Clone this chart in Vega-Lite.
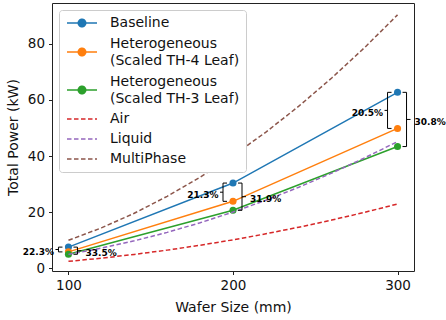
{
  "$schema": "https://vega.github.io/schema/vega-lite/v6.json",
  "width": 362,
  "height": 268,
  "autosize": {"type": "none"},
  "padding": {"left": 52, "top": 3, "right": 32, "bottom": 49},
  "background": "white",
  "config": {
    "font": "DejaVu Sans",
    "view": {"stroke": "#222222", "strokeWidth": 1},
    "axis": {
      "domain": false,
      "grid": false,
      "ticks": true,
      "tickColor": "#222222",
      "tickSize": 3.5,
      "tickWidth": 1,
      "labelFont": "DejaVu Sans",
      "labelFontSize": 13.5,
      "labelColor": "#111111",
      "titleFont": "DejaVu Sans",
      "titleFontSize": 14,
      "titleFontWeight": "normal",
      "titleColor": "#111111"
    },
    "legend": {
      "labelFont": "DejaVu Sans",
      "labelFontSize": 14,
      "labelColor": "#111111",
      "labelLimit": 400
    }
  },
  "datasets": {
    "lines": [
      {"series": "Baseline", "wafer": 100, "kw": 7.6},
      {"series": "Baseline", "wafer": 200, "kw": 30.4},
      {"series": "Baseline", "wafer": 300, "kw": 62.7},
      {"series": "Heterogeneous (Scaled TH-4 Leaf)", "wafer": 100, "kw": 5.9},
      {"series": "Heterogeneous (Scaled TH-4 Leaf)", "wafer": 200, "kw": 23.9},
      {"series": "Heterogeneous (Scaled TH-4 Leaf)", "wafer": 300, "kw": 49.85},
      {"series": "Heterogeneous (Scaled TH-3 Leaf)", "wafer": 100, "kw": 5.05},
      {"series": "Heterogeneous (Scaled TH-3 Leaf)", "wafer": 200, "kw": 20.7},
      {"series": "Heterogeneous (Scaled TH-3 Leaf)", "wafer": 300, "kw": 43.4},
      {"series": "Air", "wafer": 100, "kw": 2.55},
      {"series": "Air", "wafer": 120, "kw": 3.67},
      {"series": "Air", "wafer": 140, "kw": 5.0},
      {"series": "Air", "wafer": 160, "kw": 6.53},
      {"series": "Air", "wafer": 180, "kw": 8.26},
      {"series": "Air", "wafer": 200, "kw": 10.2},
      {"series": "Air", "wafer": 220, "kw": 12.34},
      {"series": "Air", "wafer": 240, "kw": 14.69},
      {"series": "Air", "wafer": 260, "kw": 17.24},
      {"series": "Air", "wafer": 280, "kw": 19.99},
      {"series": "Air", "wafer": 300, "kw": 22.95},
      {"series": "Liquid", "wafer": 100, "kw": 5.02},
      {"series": "Liquid", "wafer": 120, "kw": 7.23},
      {"series": "Liquid", "wafer": 140, "kw": 9.84},
      {"series": "Liquid", "wafer": 160, "kw": 12.85},
      {"series": "Liquid", "wafer": 180, "kw": 16.26},
      {"series": "Liquid", "wafer": 200, "kw": 20.08},
      {"series": "Liquid", "wafer": 220, "kw": 24.3},
      {"series": "Liquid", "wafer": 240, "kw": 28.92},
      {"series": "Liquid", "wafer": 260, "kw": 33.94},
      {"series": "Liquid", "wafer": 280, "kw": 39.36},
      {"series": "Liquid", "wafer": 300, "kw": 45.18},
      {"series": "MultiPhase", "wafer": 100, "kw": 10.03},
      {"series": "MultiPhase", "wafer": 120, "kw": 14.44},
      {"series": "MultiPhase", "wafer": 140, "kw": 19.66},
      {"series": "MultiPhase", "wafer": 160, "kw": 25.68},
      {"series": "MultiPhase", "wafer": 180, "kw": 32.5},
      {"series": "MultiPhase", "wafer": 200, "kw": 40.12},
      {"series": "MultiPhase", "wafer": 220, "kw": 48.55},
      {"series": "MultiPhase", "wafer": 240, "kw": 57.77},
      {"series": "MultiPhase", "wafer": 260, "kw": 67.8},
      {"series": "MultiPhase", "wafer": 280, "kw": 78.64},
      {"series": "MultiPhase", "wafer": 300, "kw": 90.27}
    ],
    "brackets": [
      {"wafer": 100, "side": "left", "kw": 7.6, "label": "22.3%"},
      {"wafer": 100, "side": "left", "kw": 5.9, "label": "22.3%"},
      {"wafer": 100, "side": "right", "kw": 7.6, "label": "33.5%"},
      {"wafer": 100, "side": "right", "kw": 5.05, "label": "33.5%"},
      {"wafer": 200, "side": "left", "kw": 30.4, "label": "21.3%"},
      {"wafer": 200, "side": "left", "kw": 23.9, "label": "21.3%"},
      {"wafer": 200, "side": "right", "kw": 30.4, "label": "31.9%"},
      {"wafer": 200, "side": "right", "kw": 20.7, "label": "31.9%"},
      {"wafer": 300, "side": "left", "kw": 62.7, "label": "20.5%"},
      {"wafer": 300, "side": "left", "kw": 49.85, "label": "20.5%"},
      {"wafer": 300, "side": "right", "kw": 62.7, "label": "30.8%"},
      {"wafer": 300, "side": "right", "kw": 43.4, "label": "30.8%"}
    ]
  },
  "encoding": {
    "x": {
      "field": "wafer",
      "type": "quantitative",
      "scale": {"domain": [90, 310], "nice": false, "zero": false},
      "axis": {"values": [100, 200, 300], "title": "Wafer Size (mm)", "labelPadding": 4, "titlePadding": 8}
    },
    "y": {
      "field": "kw",
      "type": "quantitative",
      "scale": {"domain": [-0.9, 94.5], "nice": false, "zero": false},
      "axis": {"values": [0, 20, 40, 60, 80], "title": "Total Power (kW)", "labelPadding": 4, "titlePadding": 7}
    }
  },
  "layer": [
    {
      "data": {"name": "lines"},
      "transform": [{"filter": "indexof(['Baseline','Heterogeneous (Scaled TH-4 Leaf)','Heterogeneous (Scaled TH-3 Leaf)'], datum.series) >= 0"}],
      "mark": {"type": "line", "strokeWidth": 1.5, "point": {"filled": true, "size": 50, "opacity": 1}},
      "encoding": {
        "color": {
          "field": "series",
          "type": "nominal",
          "scale": {
            "domain": ["Baseline", "Heterogeneous (Scaled TH-4 Leaf)", "Heterogeneous (Scaled TH-3 Leaf)", "Air", "Liquid", "MultiPhase"],
            "range": ["#1f77b4", "#ff7f0e", "#2ca02c", "#d62728", "#9467bd", "#8c564b"]
          },
          "legend": {
            "title": null,
            "orient": "top-left",
            "offset": 7,
            "padding": 6,
            "fillColor": "white",
            "strokeColor": "#cccccc",
            "cornerRadius": 3,
            "symbolSize": 100,
            "symbolStrokeWidth": 1.5,
            "labelOffset": 31,
            "rowPadding": 6,
            "labelExpr": "datum.label == 'Heterogeneous (Scaled TH-4 Leaf)' ? ['Heterogeneous', '(Scaled TH-4 Leaf)'] : datum.label == 'Heterogeneous (Scaled TH-3 Leaf)' ? ['Heterogeneous', '(Scaled TH-3 Leaf)'] : datum.label",
            "encode": {
              "labels": {
                "update": {
                  "lineHeight": {"value": 17},
                  "dy": {"signal": "indexof(datum.value, 'Heterogeneous') == 0 ? -8.5 : 0"}
                }
              },
              "symbols": {
                "update": {
                  "shape": {"signal": "indexof(['Air','Liquid','MultiPhase'], datum.value) >= 0 ? 'M-1,0H5' : 'M-1,0H5M1.25,0A0.75,0.75 0 1,1 2.75,0A0.75,0.75 0 1,1 1.25,0'"},
                  "strokeDash": {"signal": "indexof(['Air','Liquid','MultiPhase'], datum.value) >= 0 ? [4.5, 2.5] : [1, 0]"},
                  "fill": {"signal": "indexof(['Air','Liquid','MultiPhase'], datum.value) >= 0 ? 'transparent' : scale('color', datum.value)"},
                  "fillOpacity": {"value": 1},
                  "opacity": {"value": 1}
                }
              }
            }
          }
        }
      }
    },
    {
      "data": {"name": "lines"},
      "transform": [{"filter": "indexof(['Air','Liquid','MultiPhase'], datum.series) >= 0"}],
      "mark": {"type": "line", "strokeWidth": 1.5, "strokeDash": [4.5, 2.5]},
      "encoding": {"color": {"field": "series", "type": "nominal"}}
    },
    {
      "data": {"name": "brackets"},
      "transform": [{"filter": "datum.side == 'left'"}],
      "mark": {"type": "rule", "color": "black", "strokeWidth": 1, "xOffset": -10},
      "encoding": {
        "y": {"aggregate": "min", "field": "kw", "type": "quantitative"},
        "y2": {"aggregate": "max", "field": "kw"}
      }
    },
    {
      "data": {"name": "brackets"},
      "transform": [{"filter": "datum.side == 'left'"}],
      "mark": {"type": "rule", "color": "black", "strokeWidth": 1, "xOffset": -10, "x2Offset": -6},
      "encoding": {"x2": {"field": "wafer"}}
    },
    {
      "data": {"name": "brackets"},
      "transform": [{"filter": "datum.side == 'left'"}],
      "mark": {"type": "rule", "color": "black", "strokeWidth": 1, "xOffset": -10, "x2Offset": -13},
      "encoding": {
        "x2": {"field": "wafer"},
        "y": {"aggregate": "mean", "field": "kw", "type": "quantitative"}
      }
    },
    {
      "data": {"name": "brackets"},
      "transform": [{"filter": "datum.side == 'left'"}],
      "mark": {"type": "text", "align": "right", "baseline": "middle", "dx": -14.5, "dy": 2.5, "fontSize": 9, "fontWeight": "bold", "color": "black"},
      "encoding": {
        "y": {"aggregate": "mean", "field": "kw", "type": "quantitative"},
        "text": {"field": "label"}
      }
    },
    {
      "data": {"name": "brackets"},
      "transform": [{"filter": "datum.side == 'right'"}],
      "mark": {"type": "rule", "color": "black", "strokeWidth": 1, "xOffset": 9},
      "encoding": {
        "y": {"aggregate": "min", "field": "kw", "type": "quantitative"},
        "y2": {"aggregate": "max", "field": "kw"}
      }
    },
    {
      "data": {"name": "brackets"},
      "transform": [{"filter": "datum.side == 'right'"}],
      "mark": {"type": "rule", "color": "black", "strokeWidth": 1, "xOffset": 9, "x2Offset": 5},
      "encoding": {"x2": {"field": "wafer"}}
    },
    {
      "data": {"name": "brackets"},
      "transform": [{"filter": "datum.side == 'right'"}],
      "mark": {"type": "rule", "color": "black", "strokeWidth": 1, "xOffset": 9, "x2Offset": 13},
      "encoding": {
        "x2": {"field": "wafer"},
        "y": {"aggregate": "mean", "field": "kw", "type": "quantitative"}
      }
    },
    {
      "data": {"name": "brackets"},
      "transform": [{"filter": "datum.side == 'right'"}],
      "mark": {"type": "text", "align": "left", "baseline": "middle", "dx": 17, "dy": 2.5, "fontSize": 9, "fontWeight": "bold", "color": "black"},
      "encoding": {
        "y": {"aggregate": "mean", "field": "kw", "type": "quantitative"},
        "text": {"field": "label"}
      }
    }
  ]
}
